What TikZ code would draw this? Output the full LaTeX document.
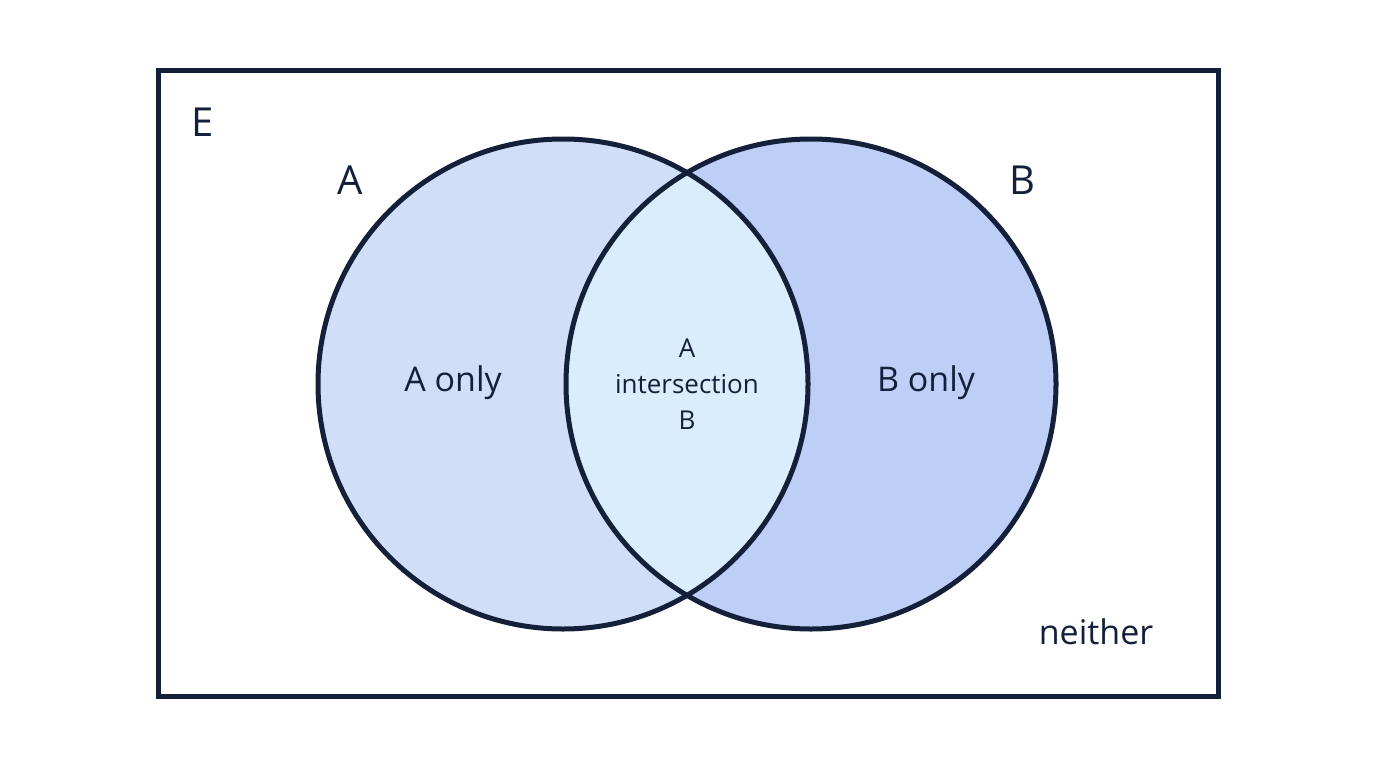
\documentclass[tikz,border=0pt]{standalone}
\usepackage{fontspec}
\setmainfont{Open Sans}
\definecolor{ink}{HTML}{14203A}
\definecolor{fa}{HTML}{D1DEF8}
\definecolor{fb}{HTML}{BDCFF7}
\definecolor{fab}{HTML}{D9EDFC}
\begin{document}
\begin{tikzpicture}[x=1pt,y=-1pt,
  lbl/.style={text=ink,inner sep=0pt,font=\fontsize{#1}{#1}\selectfont},
  edge/.style={draw=ink,line width=5pt}]
\useasboundingbox (0,0) rectangle (1376,768);
\fill[white] (0,0) rectangle (1376,768);
\node[edge,minimum width=1060pt,minimum height=625pt,inner sep=0pt] (E) at (688,383.5) {};
\coordinate (ca) at (563,384);
\coordinate (cb) at (811,384);
\fill[fa] (ca) circle (245);
\fill[fb] (cb) circle (245);
\begin{scope}\clip (ca) circle (245); \fill[fab] (cb) circle (245);\end{scope}
\draw[edge] (ca) circle (245);
\draw[edge] (cb) circle (245);
\node[lbl=40] (tE) at (203,122) {E};
\node[lbl=40] (tA) at (350,180) {A};
\node[lbl=40] (tB) at (1022,180) {B};
\node[lbl=34] (aonly) at (453,383) {A only};
\node[lbl=34] (bonly) at (926,383) {B only};
\node[lbl=26,align=center] (ab) at (687,384) {A\\[10pt]intersection\\[10pt]B};
\node[lbl=34] (nei) at (1096,632) {neither};
\end{tikzpicture}
\end{document}
